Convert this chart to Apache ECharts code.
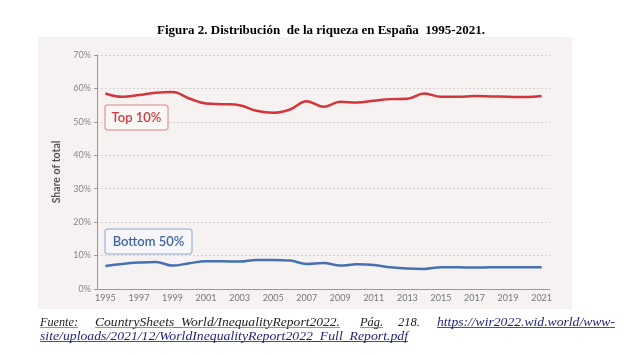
<!DOCTYPE html>
<html><head><meta charset="utf-8">
<script src="https://cdn.jsdelivr.net/npm/echarts@6/dist/echarts.min.js"></script>
<style>html,body{margin:0;padding:0;background:#fff}#c{width:642px;height:355px}</style>
</head><body><div id="c"></div>
<script>
const years = ['1995','1996','1997','1998','1999','2000','2001','2002','2003','2004','2005','2006','2007','2008','2009','2010','2011','2012','2013','2014','2015','2016','2017','2018','2019','2020','2021'];
const top10 = [58.5,57.5,58.0,58.7,58.9,57.0,55.5,55.3,55.0,53.3,52.7,53.7,56.2,54.5,56.0,55.8,56.3,56.8,56.9,58.5,57.5,57.5,57.7,57.6,57.5,57.4,57.7];
const bottom50 = [6.9,7.5,7.9,8.1,7.0,7.7,8.3,8.3,8.2,8.7,8.7,8.5,7.5,7.8,7.0,7.4,7.2,6.5,6.1,6.0,6.5,6.5,6.4,6.5,6.5,6.5,6.5];
const yTicks = [0,10,20,30,40,50,60,70];
const seriesNames = ['Top 10%','Bottom 50%'];
const titleText = 'Figura 2. Distribución  de la riqueza en España  1995-2021.';
const footWords1 = ['Fuente:','CountrySheets_World/InequalityReport2022.','Pág.','218.','https://wir2022.wid.world/www-'];
const footLine2 = 'site/uploads/2021/12/WorldInequalityReport2022_Full_Report.pdf';

const chart = echarts.init(document.getElementById('c'), null, {renderer:'canvas'});
const serif = '"Liberation Serif","DejaVu Serif",serif';
const sans = 'Lato,"Open Sans",sans-serif';
const footFont = 'italic 12px '+serif;
const mctx = document.createElement('canvas').getContext('2d');
mctx.font = footFont;
function fitText(str, x0, x1, y, color){
  const w = mctx.measureText(str).width;
  return {type:'text', x:x0, y:y, scaleX:(x1-x0)/w, scaleY:1, style:{text:str, font:footFont, fill:color}};
}

const graphics = [
  {type:'rect', z:-10, shape:{x:38,y:37,width:534,height:272}, style:{fill:'#f6f2f1'}},
  {type:'text', left:'center', top:24, style:{text:titleText, font:'bold 13px '+serif, fill:'#000'}},
  {type:'rect', z:10, shape:{x:105,y:105,width:63,height:25,r:3}, style:{fill:'#f9f6f6',stroke:'#e6a9a8',lineWidth:1.5}},
  {type:'text', z:11, x:136.5, y:117.5, style:{text:seriesNames[0], font:'600 13px '+sans, fill:'#d63a3d', align:'center', verticalAlign:'middle'}},
  {type:'rect', z:10, shape:{x:105,y:229,width:87,height:25,r:3}, style:{fill:'#f7f6f8',stroke:'#b3c0da',lineWidth:1.5}},
  {type:'text', z:11, x:148.5, y:241.5, style:{text:seriesNames[1], font:'600 13px '+sans, fill:'#4067a4', align:'center', verticalAlign:'middle'}}
];
const footPos = [[40,78],[95,340],[360,383],[398,420],[437,615]];
footWords1.forEach(function(w,i){
  graphics.push(fitText(w, footPos[i][0], footPos[i][1], 316.5, i===4?'#1f1f7a':'#222'));
});
graphics.push(fitText(footLine2, 40, 408, 330.5, '#1f1f7a'));
[[40,78,'#c55'],[95,340,'#c55'],[360,383,'#c55'],[437,615,'#1f1f7a']].forEach(function(u){
  graphics.push({type:'line', shape:{x1:u[0],y1:327.5,x2:u[1],y2:327.5}, style:{stroke:u[2],lineWidth:0.8}});
});
graphics.push({type:'line', shape:{x1:40,y1:341.5,x2:408,y2:341.5}, style:{stroke:'#1f1f7a',lineWidth:0.8}});

chart.setOption({
  animation:false,
  backgroundColor:'#fff',
  grid:{left:97,right:92,top:55,bottom:66},
  xAxis:{type:'category', data:years, boundaryGap:true,
    axisLine:{lineStyle:{color:'#999',width:1}},
    axisTick:{interval:1,length:3,lineStyle:{color:'#999'}},
    axisLabel:{interval:1,color:'#777',fontSize:9,fontFamily:sans,margin:5}},
  yAxis:{type:'value', min:yTicks[0], max:yTicks[yTicks.length-1], interval:10,
    name:'Share of total', nameLocation:'middle', nameGap:31,
    nameTextStyle:{color:'#555',fontSize:10.5,fontWeight:'bold',fontFamily:sans},
    axisLine:{show:true,lineStyle:{color:'#999',width:1}},
    axisTick:{show:true,length:3,lineStyle:{color:'#999'}},
    axisLabel:{formatter:'{value}%',color:'#888',fontSize:9,fontFamily:sans,margin:6},
    splitLine:{lineStyle:{color:'#d6d0cf',type:[2,2],width:1}}},
  series:[
    {name:seriesNames[0], type:'line', data:top10, smooth:0.4, symbol:'none', lineStyle:{color:'#d2363b',width:2.5}},
    {name:seriesNames[1], type:'line', data:bottom50, smooth:0.4, symbol:'none', lineStyle:{color:'#4671b0',width:2.5}}
  ],
  graphic:graphics
});
</script></body></html>
